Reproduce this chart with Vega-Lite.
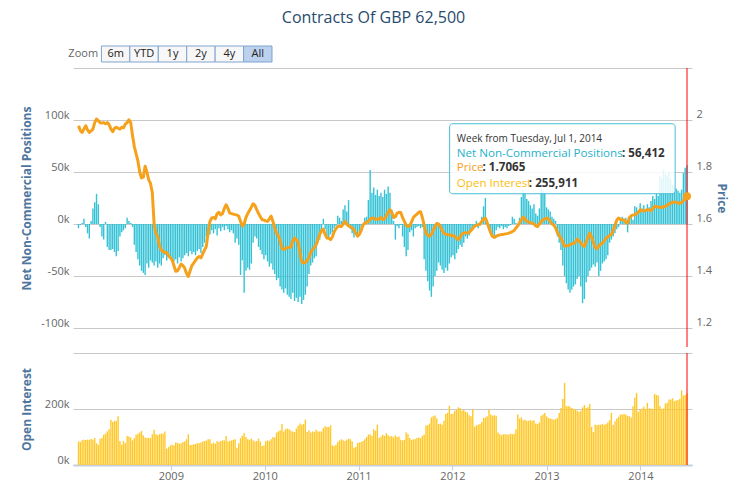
{
"$schema":"https://vega.github.io/schema/vega-lite/v6.json",
"padding":{"left":19,"top":9,"right":2,"bottom":0},
"title":{"text":"Contracts Of GBP 62,500","fontSize":16,"font":"Open Sans","fontWeight":"normal","color":"#274b6d","anchor":"middle","offset":20},
"config":{"view":{"stroke":null},"font":"Open Sans","axis":{"labelFont":"Open Sans","labelFontSize":11,"labelColor":"#666666","titleFont":"Open Sans","titleFontSize":12,"titleColor":"#4d759e","titleFontWeight":"bold","gridColor":"#c8c8c8","gridWidth":1}},
"spacing":4,
"resolve":{"scale":{"x":"independent","y":"independent"}},
"datasets":{"cot":[
{"date":"2008-01-08","net":-4000,"price":1.978,"oi":84000},
{"date":"2008-01-15","net":-1000,"price":1.96,"oi":82000},
{"date":"2008-01-22","net":1000,"price":1.952,"oi":88000},
{"date":"2008-01-29","net":5000,"price":1.965,"oi":90000},
{"date":"2008-02-05","net":-3000,"price":1.978,"oi":89000},
{"date":"2008-02-12","net":-9000,"price":1.962,"oi":91000},
{"date":"2008-02-19","net":-14000,"price":1.952,"oi":90000},
{"date":"2008-02-26","net":3000,"price":1.958,"oi":93000},
{"date":"2008-03-04","net":15000,"price":1.965,"oi":90000},
{"date":"2008-03-11","net":21000,"price":1.99,"oi":96000},
{"date":"2008-03-18","net":29000,"price":2.004,"oi":78000},
{"date":"2008-03-25","net":19000,"price":1.997,"oi":72000},
{"date":"2008-04-01","net":-3000,"price":1.99,"oi":94000},
{"date":"2008-04-08","net":-12000,"price":1.988,"oi":96000},
{"date":"2008-04-15","net":-15000,"price":1.99,"oi":108000},
{"date":"2008-04-22","net":2000,"price":1.985,"oi":112000},
{"date":"2008-04-29","net":-22000,"price":1.99,"oi":120000},
{"date":"2008-05-06","net":-25000,"price":1.982,"oi":128000},
{"date":"2008-05-13","net":-25000,"price":1.965,"oi":162000},
{"date":"2008-05-20","net":-24000,"price":1.955,"oi":154000},
{"date":"2008-05-27","net":-27000,"price":1.968,"oi":158000},
{"date":"2008-06-03","net":-31000,"price":1.972,"oi":158000},
{"date":"2008-06-10","net":-26000,"price":1.968,"oi":174000},
{"date":"2008-06-17","net":-12000,"price":1.965,"oi":86000},
{"date":"2008-06-24","net":-8000,"price":1.972,"oi":72000},
{"date":"2008-07-01","net":-6000,"price":1.97,"oi":86000},
{"date":"2008-07-08","net":-4000,"price":1.984,"oi":78000},
{"date":"2008-07-15","net":6000,"price":1.99,"oi":104000},
{"date":"2008-07-22","net":3000,"price":2.001,"oi":102000},
{"date":"2008-07-29","net":1000,"price":1.99,"oi":98000},
{"date":"2008-08-05","net":-3000,"price":1.94,"oi":88000},
{"date":"2008-08-12","net":-20000,"price":1.898,"oi":96000},
{"date":"2008-08-19","net":-27000,"price":1.87,"oi":108000},
{"date":"2008-08-26","net":-34000,"price":1.842,"oi":112000},
{"date":"2008-09-02","net":-40000,"price":1.80,"oi":116000},
{"date":"2008-09-09","net":-45000,"price":1.777,"oi":122000},
{"date":"2008-09-16","net":-47000,"price":1.78,"oi":106000},
{"date":"2008-09-23","net":-49000,"price":1.822,"oi":98000},
{"date":"2008-09-30","net":-38000,"price":1.80,"oi":96000},
{"date":"2008-10-07","net":-42000,"price":1.77,"oi":97000},
{"date":"2008-10-14","net":-35000,"price":1.756,"oi":96000},
{"date":"2008-10-21","net":-37000,"price":1.72,"oi":110000},
{"date":"2008-10-28","net":-40000,"price":1.60,"oi":126000},
{"date":"2008-11-04","net":-36000,"price":1.565,"oi":110000},
{"date":"2008-11-11","net":-42000,"price":1.552,"oi":106000},
{"date":"2008-11-18","net":-38000,"price":1.514,"oi":110000},
{"date":"2008-11-25","net":-40000,"price":1.50,"oi":112000},
{"date":"2008-12-02","net":-33000,"price":1.494,"oi":112000},
{"date":"2008-12-09","net":-30000,"price":1.49,"oi":120000},
{"date":"2008-12-16","net":-35000,"price":1.49,"oi":58000},
{"date":"2008-12-23","net":-31000,"price":1.478,"oi":64000},
{"date":"2008-12-30","net":-33000,"price":1.47,"oi":70000},
{"date":"2009-01-06","net":-35000,"price":1.462,"oi":72000},
{"date":"2009-01-13","net":-36000,"price":1.44,"oi":70000},
{"date":"2009-01-20","net":-34000,"price":1.418,"oi":80000},
{"date":"2009-01-27","net":-38000,"price":1.42,"oi":79000},
{"date":"2009-02-03","net":-32000,"price":1.432,"oi":76000},
{"date":"2009-02-10","net":-36000,"price":1.446,"oi":78000},
{"date":"2009-02-17","net":-33000,"price":1.44,"oi":82000},
{"date":"2009-02-24","net":-30000,"price":1.43,"oi":84000},
{"date":"2009-03-03","net":-28000,"price":1.41,"oi":92000},
{"date":"2009-03-10","net":-31000,"price":1.398,"oi":110000},
{"date":"2009-03-17","net":-26000,"price":1.42,"oi":71000},
{"date":"2009-03-24","net":-29000,"price":1.44,"oi":71000},
{"date":"2009-03-31","net":-27000,"price":1.45,"oi":74000},
{"date":"2009-04-07","net":-30000,"price":1.46,"oi":75000},
{"date":"2009-04-14","net":-26000,"price":1.47,"oi":78000},
{"date":"2009-04-21","net":-24000,"price":1.475,"oi":78000},
{"date":"2009-04-28","net":-28000,"price":1.47,"oi":80000},
{"date":"2009-05-05","net":-22000,"price":1.485,"oi":84000},
{"date":"2009-05-12","net":-18000,"price":1.50,"oi":86000},
{"date":"2009-05-19","net":-12000,"price":1.514,"oi":87000},
{"date":"2009-05-26","net":-8000,"price":1.57,"oi":92000},
{"date":"2009-06-02","net":-10000,"price":1.61,"oi":92000},
{"date":"2009-06-09","net":-6000,"price":1.623,"oi":76000},
{"date":"2009-06-16","net":-9000,"price":1.625,"oi":80000},
{"date":"2009-06-23","net":-5000,"price":1.62,"oi":76000},
{"date":"2009-06-30","net":-11000,"price":1.64,"oi":86000},
{"date":"2009-07-07","net":-4000,"price":1.645,"oi":82000},
{"date":"2009-07-14","net":-7000,"price":1.635,"oi":86000},
{"date":"2009-07-21","net":-3000,"price":1.64,"oi":88000},
{"date":"2009-07-28","net":-6000,"price":1.66,"oi":88000},
{"date":"2009-08-04","net":-2000,"price":1.674,"oi":104000},
{"date":"2009-08-11","net":-5000,"price":1.66,"oi":84000},
{"date":"2009-08-18","net":-8000,"price":1.642,"oi":86000},
{"date":"2009-08-25","net":-6000,"price":1.64,"oi":88000},
{"date":"2009-09-01","net":-9000,"price":1.638,"oi":90000},
{"date":"2009-09-08","net":-18000,"price":1.636,"oi":92000},
{"date":"2009-09-15","net":-14000,"price":1.635,"oi":62000},
{"date":"2009-09-22","net":-20000,"price":1.63,"oi":78000},
{"date":"2009-09-29","net":-49000,"price":1.61,"oi":96000},
{"date":"2009-10-06","net":-35000,"price":1.592,"oi":104000},
{"date":"2009-10-13","net":-66000,"price":1.60,"oi":114000},
{"date":"2009-10-20","net":-45000,"price":1.625,"oi":100000},
{"date":"2009-10-27","net":-42000,"price":1.64,"oi":92000},
{"date":"2009-11-03","net":-44000,"price":1.652,"oi":90000},
{"date":"2009-11-10","net":-38000,"price":1.665,"oi":94000},
{"date":"2009-11-17","net":-18000,"price":1.678,"oi":88000},
{"date":"2009-11-24","net":-12000,"price":1.672,"oi":84000},
{"date":"2009-12-01","net":-14000,"price":1.655,"oi":86000},
{"date":"2009-12-08","net":-22000,"price":1.64,"oi":94000},
{"date":"2009-12-15","net":-25000,"price":1.628,"oi":84000},
{"date":"2009-12-22","net":-29000,"price":1.617,"oi":68000},
{"date":"2009-12-29","net":-34000,"price":1.615,"oi":70000},
{"date":"2010-01-05","net":-30000,"price":1.612,"oi":85000},
{"date":"2010-01-12","net":-36000,"price":1.61,"oi":88000},
{"date":"2010-01-19","net":-41000,"price":1.62,"oi":86000},
{"date":"2010-01-26","net":-38000,"price":1.63,"oi":92000},
{"date":"2010-02-02","net":-44000,"price":1.61,"oi":100000},
{"date":"2010-02-09","net":-48000,"price":1.585,"oi":98000},
{"date":"2010-02-16","net":-54000,"price":1.565,"oi":116000},
{"date":"2010-02-23","net":-52000,"price":1.555,"oi":120000},
{"date":"2010-03-02","net":-60000,"price":1.535,"oi":124000},
{"date":"2010-03-09","net":-63000,"price":1.505,"oi":146000},
{"date":"2010-03-16","net":-66000,"price":1.502,"oi":120000},
{"date":"2010-03-23","net":-62000,"price":1.505,"oi":128000},
{"date":"2010-03-30","net":-68000,"price":1.51,"oi":130000},
{"date":"2010-04-06","net":-70000,"price":1.51,"oi":128000},
{"date":"2010-04-13","net":-72000,"price":1.512,"oi":122000},
{"date":"2010-04-20","net":-66000,"price":1.535,"oi":120000},
{"date":"2010-04-27","net":-74000,"price":1.546,"oi":118000},
{"date":"2010-05-04","net":-71000,"price":1.54,"oi":130000},
{"date":"2010-05-11","net":-75000,"price":1.53,"oi":140000},
{"date":"2010-05-18","net":-70000,"price":1.49,"oi":148000},
{"date":"2010-05-25","net":-77000,"price":1.455,"oi":144000},
{"date":"2010-06-01","net":-73000,"price":1.45,"oi":146000},
{"date":"2010-06-08","net":-68000,"price":1.452,"oi":162000},
{"date":"2010-06-15","net":-60000,"price":1.46,"oi":118000},
{"date":"2010-06-22","net":-48000,"price":1.47,"oi":124000},
{"date":"2010-06-29","net":-40000,"price":1.49,"oi":116000},
{"date":"2010-07-06","net":-37000,"price":1.502,"oi":120000},
{"date":"2010-07-13","net":-33000,"price":1.51,"oi":118000},
{"date":"2010-07-20","net":-31000,"price":1.52,"oi":126000},
{"date":"2010-07-27","net":-18000,"price":1.54,"oi":120000},
{"date":"2010-08-03","net":-15000,"price":1.56,"oi":120000},
{"date":"2010-08-10","net":-9000,"price":1.575,"oi":120000},
{"date":"2010-08-17","net":5000,"price":1.58,"oi":132000},
{"date":"2010-08-24","net":-5000,"price":1.56,"oi":138000},
{"date":"2010-08-31","net":-12000,"price":1.546,"oi":136000},
{"date":"2010-09-07","net":-14000,"price":1.545,"oi":136000},
{"date":"2010-09-14","net":-10000,"price":1.54,"oi":142000},
{"date":"2010-09-21","net":-8000,"price":1.55,"oi":70000},
{"date":"2010-09-28","net":-4000,"price":1.57,"oi":68000},
{"date":"2010-10-05","net":-2000,"price":1.582,"oi":72000},
{"date":"2010-10-12","net":8000,"price":1.59,"oi":82000},
{"date":"2010-10-19","net":6000,"price":1.592,"oi":88000},
{"date":"2010-10-26","net":3000,"price":1.59,"oi":92000},
{"date":"2010-11-02","net":14000,"price":1.60,"oi":88000},
{"date":"2010-11-09","net":18000,"price":1.61,"oi":86000},
{"date":"2010-11-16","net":12000,"price":1.60,"oi":90000},
{"date":"2010-11-23","net":23000,"price":1.592,"oi":94000},
{"date":"2010-11-30","net":-5000,"price":1.59,"oi":92000},
{"date":"2010-12-07","net":-9000,"price":1.585,"oi":84000},
{"date":"2010-12-14","net":-13000,"price":1.578,"oi":62000},
{"date":"2010-12-21","net":-7000,"price":1.565,"oi":64000},
{"date":"2010-12-28","net":-11000,"price":1.553,"oi":78000},
{"date":"2011-01-04","net":-8000,"price":1.56,"oi":80000},
{"date":"2011-01-11","net":-6000,"price":1.575,"oi":82000},
{"date":"2011-01-18","net":-3000,"price":1.595,"oi":86000},
{"date":"2011-01-25","net":6000,"price":1.604,"oi":92000},
{"date":"2011-02-01","net":7000,"price":1.606,"oi":100000},
{"date":"2011-02-08","net":23000,"price":1.61,"oi":108000},
{"date":"2011-02-15","net":52000,"price":1.618,"oi":110000},
{"date":"2011-02-22","net":30000,"price":1.623,"oi":104000},
{"date":"2011-03-01","net":35000,"price":1.622,"oi":128000},
{"date":"2011-03-08","net":28000,"price":1.618,"oi":122000},
{"date":"2011-03-15","net":33000,"price":1.618,"oi":144000},
{"date":"2011-03-22","net":27000,"price":1.62,"oi":96000},
{"date":"2011-03-29","net":30000,"price":1.625,"oi":102000},
{"date":"2011-04-05","net":26000,"price":1.617,"oi":108000},
{"date":"2011-04-12","net":33000,"price":1.62,"oi":104000},
{"date":"2011-04-19","net":29000,"price":1.632,"oi":114000},
{"date":"2011-04-26","net":36000,"price":1.645,"oi":106000},
{"date":"2011-05-03","net":30000,"price":1.655,"oi":102000},
{"date":"2011-05-10","net":14000,"price":1.645,"oi":104000},
{"date":"2011-05-17","net":3000,"price":1.625,"oi":98000},
{"date":"2011-05-24","net":-15000,"price":1.628,"oi":106000},
{"date":"2011-05-31","net":-2000,"price":1.642,"oi":100000},
{"date":"2011-06-07","net":-4000,"price":1.645,"oi":102000},
{"date":"2011-06-14","net":-1000,"price":1.644,"oi":90000},
{"date":"2011-06-21","net":-12000,"price":1.625,"oi":88000},
{"date":"2011-06-28","net":-22000,"price":1.61,"oi":90000},
{"date":"2011-07-05","net":-31000,"price":1.595,"oi":117000},
{"date":"2011-07-12","net":-25000,"price":1.59,"oi":110000},
{"date":"2011-07-19","net":-8000,"price":1.593,"oi":96000},
{"date":"2011-07-26","net":-6000,"price":1.608,"oi":90000},
{"date":"2011-08-02","net":-12000,"price":1.625,"oi":92000},
{"date":"2011-08-09","net":-4000,"price":1.632,"oi":92000},
{"date":"2011-08-16","net":-3000,"price":1.638,"oi":96000},
{"date":"2011-08-23","net":-2000,"price":1.645,"oi":98000},
{"date":"2011-08-30","net":-4000,"price":1.647,"oi":96000},
{"date":"2011-09-06","net":-3000,"price":1.625,"oi":104000},
{"date":"2011-09-13","net":-34000,"price":1.595,"oi":108000},
{"date":"2011-09-20","net":-45000,"price":1.565,"oi":141000},
{"date":"2011-09-27","net":-55000,"price":1.557,"oi":142000},
{"date":"2011-10-04","net":-64000,"price":1.553,"oi":148000},
{"date":"2011-10-11","net":-70000,"price":1.56,"oi":170000},
{"date":"2011-10-18","net":-60000,"price":1.575,"oi":174000},
{"date":"2011-10-25","net":-50000,"price":1.59,"oi":177000},
{"date":"2011-11-01","net":-45000,"price":1.602,"oi":166000},
{"date":"2011-11-08","net":-37000,"price":1.60,"oi":146000},
{"date":"2011-11-15","net":-40000,"price":1.59,"oi":148000},
{"date":"2011-11-22","net":-44000,"price":1.575,"oi":144000},
{"date":"2011-11-29","net":-47000,"price":1.565,"oi":158000},
{"date":"2011-12-06","net":-42000,"price":1.56,"oi":182000},
{"date":"2011-12-13","net":-45000,"price":1.56,"oi":186000},
{"date":"2011-12-20","net":-38000,"price":1.558,"oi":212000},
{"date":"2011-12-27","net":-32000,"price":1.557,"oi":182000},
{"date":"2012-01-03","net":-30000,"price":1.555,"oi":184000},
{"date":"2012-01-10","net":-34000,"price":1.553,"oi":194000},
{"date":"2012-01-17","net":-28000,"price":1.545,"oi":198000},
{"date":"2012-01-24","net":-24000,"price":1.54,"oi":206000},
{"date":"2012-01-31","net":-20000,"price":1.55,"oi":204000},
{"date":"2012-02-07","net":-22000,"price":1.562,"oi":194000},
{"date":"2012-02-14","net":-18000,"price":1.565,"oi":196000},
{"date":"2012-02-21","net":-12000,"price":1.567,"oi":190000},
{"date":"2012-02-28","net":-14000,"price":1.565,"oi":188000},
{"date":"2012-03-06","net":-11000,"price":1.567,"oi":178000},
{"date":"2012-03-13","net":-5000,"price":1.575,"oi":174000},
{"date":"2012-03-20","net":-3000,"price":1.583,"oi":200000},
{"date":"2012-03-27","net":-2000,"price":1.592,"oi":137000},
{"date":"2012-04-03","net":3000,"price":1.595,"oi":142000},
{"date":"2012-04-10","net":-4000,"price":1.598,"oi":144000},
{"date":"2012-04-17","net":-2000,"price":1.60,"oi":146000},
{"date":"2012-04-24","net":7000,"price":1.61,"oi":154000},
{"date":"2012-05-01","net":17000,"price":1.62,"oi":168000},
{"date":"2012-05-08","net":25000,"price":1.623,"oi":170000},
{"date":"2012-05-15","net":4000,"price":1.605,"oi":174000},
{"date":"2012-05-22","net":-4000,"price":1.585,"oi":198000},
{"date":"2012-05-29","net":-8000,"price":1.565,"oi":180000},
{"date":"2012-06-05","net":-13000,"price":1.552,"oi":176000},
{"date":"2012-06-12","net":-12000,"price":1.548,"oi":178000},
{"date":"2012-06-19","net":-6000,"price":1.553,"oi":176000},
{"date":"2012-06-26","net":-3000,"price":1.556,"oi":116000},
{"date":"2012-07-03","net":-4000,"price":1.558,"oi":110000},
{"date":"2012-07-10","net":-2000,"price":1.56,"oi":106000},
{"date":"2012-07-17","net":-5000,"price":1.56,"oi":110000},
{"date":"2012-07-24","net":-3000,"price":1.562,"oi":110000},
{"date":"2012-07-31","net":-4000,"price":1.563,"oi":110000},
{"date":"2012-08-07","net":-2000,"price":1.565,"oi":108000},
{"date":"2012-08-14","net":-1000,"price":1.568,"oi":112000},
{"date":"2012-08-21","net":7000,"price":1.571,"oi":110000},
{"date":"2012-08-28","net":5000,"price":1.575,"oi":112000},
{"date":"2012-09-04","net":1000,"price":1.585,"oi":128000},
{"date":"2012-09-11","net":-1000,"price":1.593,"oi":180000},
{"date":"2012-09-18","net":6000,"price":1.605,"oi":166000},
{"date":"2012-09-25","net":26000,"price":1.615,"oi":170000},
{"date":"2012-10-02","net":33000,"price":1.627,"oi":160000},
{"date":"2012-10-09","net":30000,"price":1.62,"oi":162000},
{"date":"2012-10-16","net":24000,"price":1.61,"oi":158000},
{"date":"2012-10-23","net":22000,"price":1.608,"oi":158000},
{"date":"2012-10-30","net":18000,"price":1.605,"oi":160000},
{"date":"2012-11-06","net":15000,"price":1.604,"oi":158000},
{"date":"2012-11-13","net":19000,"price":1.60,"oi":160000},
{"date":"2012-11-20","net":10000,"price":1.593,"oi":148000},
{"date":"2012-11-27","net":8000,"price":1.59,"oi":146000},
{"date":"2012-12-04","net":15000,"price":1.60,"oi":152000},
{"date":"2012-12-11","net":34000,"price":1.608,"oi":176000},
{"date":"2012-12-18","net":32000,"price":1.616,"oi":180000},
{"date":"2012-12-25","net":30000,"price":1.62,"oi":186000},
{"date":"2013-01-01","net":16000,"price":1.623,"oi":174000},
{"date":"2013-01-08","net":14000,"price":1.62,"oi":168000},
{"date":"2013-01-15","net":12000,"price":1.61,"oi":166000},
{"date":"2013-01-22","net":7000,"price":1.60,"oi":164000},
{"date":"2013-01-29","net":5000,"price":1.596,"oi":162000},
{"date":"2013-02-05","net":3000,"price":1.585,"oi":164000},
{"date":"2013-02-12","net":-12000,"price":1.567,"oi":168000},
{"date":"2013-02-19","net":-18000,"price":1.555,"oi":186000},
{"date":"2013-02-26","net":-25000,"price":1.545,"oi":204000},
{"date":"2013-03-05","net":-40000,"price":1.53,"oi":236000},
{"date":"2013-03-12","net":-50000,"price":1.515,"oi":293000},
{"date":"2013-03-19","net":-57000,"price":1.515,"oi":210000},
{"date":"2013-03-26","net":-63000,"price":1.517,"oi":212000},
{"date":"2013-04-02","net":-66000,"price":1.52,"oi":208000},
{"date":"2013-04-09","net":-63000,"price":1.524,"oi":204000},
{"date":"2013-04-16","net":-60000,"price":1.525,"oi":200000},
{"date":"2013-04-23","net":-58000,"price":1.53,"oi":200000},
{"date":"2013-04-30","net":-53000,"price":1.542,"oi":194000},
{"date":"2013-05-07","net":-50000,"price":1.535,"oi":190000},
{"date":"2013-05-14","net":-60000,"price":1.528,"oi":194000},
{"date":"2013-05-21","net":-76000,"price":1.518,"oi":206000},
{"date":"2013-05-28","net":-72000,"price":1.514,"oi":214000},
{"date":"2013-06-04","net":-56000,"price":1.53,"oi":204000},
{"date":"2013-06-11","net":-50000,"price":1.55,"oi":206000},
{"date":"2013-06-18","net":-45000,"price":1.565,"oi":218000},
{"date":"2013-06-25","net":-42000,"price":1.55,"oi":136000},
{"date":"2013-07-02","net":-39000,"price":1.53,"oi":118000},
{"date":"2013-07-09","net":-41000,"price":1.51,"oi":144000},
{"date":"2013-07-16","net":-37000,"price":1.505,"oi":142000},
{"date":"2013-07-23","net":-50000,"price":1.515,"oi":144000},
{"date":"2013-07-30","net":-45000,"price":1.522,"oi":144000},
{"date":"2013-08-06","net":-38000,"price":1.526,"oi":146000},
{"date":"2013-08-13","net":-36000,"price":1.535,"oi":144000},
{"date":"2013-08-20","net":-34000,"price":1.545,"oi":146000},
{"date":"2013-08-27","net":-30000,"price":1.55,"oi":152000},
{"date":"2013-09-03","net":-18000,"price":1.556,"oi":160000},
{"date":"2013-09-10","net":-15000,"price":1.56,"oi":186000},
{"date":"2013-09-17","net":-12000,"price":1.575,"oi":143000},
{"date":"2013-09-24","net":-9000,"price":1.595,"oi":156000},
{"date":"2013-10-01","net":-5000,"price":1.615,"oi":166000},
{"date":"2013-10-08","net":-3000,"price":1.623,"oi":172000},
{"date":"2013-10-15","net":4000,"price":1.618,"oi":180000},
{"date":"2013-10-22","net":7000,"price":1.616,"oi":180000},
{"date":"2013-10-29","net":5000,"price":1.615,"oi":182000},
{"date":"2013-11-05","net":6000,"price":1.607,"oi":180000},
{"date":"2013-11-12","net":-8000,"price":1.603,"oi":176000},
{"date":"2013-11-19","net":6000,"price":1.625,"oi":174000},
{"date":"2013-11-26","net":7000,"price":1.632,"oi":170000},
{"date":"2013-12-03","net":4000,"price":1.634,"oi":210000},
{"date":"2013-12-10","net":17000,"price":1.636,"oi":240000},
{"date":"2013-12-17","net":16000,"price":1.64,"oi":258000},
{"date":"2013-12-24","net":12000,"price":1.645,"oi":190000},
{"date":"2013-12-31","net":20000,"price":1.655,"oi":196000},
{"date":"2014-01-07","net":15000,"price":1.652,"oi":202000},
{"date":"2014-01-14","net":18000,"price":1.65,"oi":208000},
{"date":"2014-01-21","net":14000,"price":1.652,"oi":200000},
{"date":"2014-01-28","net":19000,"price":1.655,"oi":222000},
{"date":"2014-02-04","net":16000,"price":1.654,"oi":202000},
{"date":"2014-02-11","net":22000,"price":1.652,"oi":202000},
{"date":"2014-02-18","net":27000,"price":1.66,"oi":200000},
{"date":"2014-02-25","net":24000,"price":1.668,"oi":254000},
{"date":"2014-03-04","net":30000,"price":1.667,"oi":250000},
{"date":"2014-03-11","net":27000,"price":1.665,"oi":248000},
{"date":"2014-03-18","net":46000,"price":1.664,"oi":210000},
{"date":"2014-03-25","net":44000,"price":1.663,"oi":200000},
{"date":"2014-04-01","net":52000,"price":1.667,"oi":202000},
{"date":"2014-04-08","net":48000,"price":1.668,"oi":220000},
{"date":"2014-04-15","net":46000,"price":1.672,"oi":222000},
{"date":"2014-04-22","net":50000,"price":1.676,"oi":234000},
{"date":"2014-04-29","net":43000,"price":1.681,"oi":234000},
{"date":"2014-05-06","net":38000,"price":1.683,"oi":238000},
{"date":"2014-05-13","net":35000,"price":1.685,"oi":228000},
{"date":"2014-05-20","net":34000,"price":1.683,"oi":230000},
{"date":"2014-05-27","net":32000,"price":1.68,"oi":232000},
{"date":"2014-06-03","net":30000,"price":1.68,"oi":236000},
{"date":"2014-06-10","net":33000,"price":1.682,"oi":266000},
{"date":"2014-06-17","net":49000,"price":1.69,"oi":248000},
{"date":"2014-06-24","net":54000,"price":1.695,"oi":250000},
{"date":"2014-07-01","net":56412,"price":1.7065,"oi":255911}
]},
"vconcat":[
{
"width":199,"height":16,
"data":{"values":[{"b":"Zoom"},{"b":"6m"},{"b":"YTD"},{"b":"1y"},{"b":"2y"},{"b":"4y"},{"b":"All"}]},
"encoding":{"x":{"field":"b","type":"nominal","sort":null,"scale":{"domain":["Zoom","6m","YTD","1y","2y","4y","All"],"paddingInner":0,"paddingOuter":0},"axis":null}},
"layer":[
{"transform":[{"filter":"datum.b !== 'Zoom'"}],
"mark":{"type":"rect","stroke":"#7fa3cf","strokeWidth":1},
"encoding":{"fill":{"condition":{"test":"datum.b === 'All'","value":"#bcd1ee"},"value":"#f7f7f7"}}},
{"transform":[{"filter":"datum.b !== 'Zoom'"}],
"mark":{"type":"text","fontSize":11,"font":"Open Sans","color":"#222222"},
"encoding":{"text":{"field":"b"}}},
{"transform":[{"filter":"datum.b === 'Zoom'"}],
"mark":{"type":"text","fontSize":11,"font":"Open Sans","color":"#666666","dx":-4},
"encoding":{"text":{"field":"b"}}}
]
},
{
"width":619,"height":279,
"data":{"name":"cot"},
"resolve":{"scale":{"y":"independent"}},
"layer":[
{"layer":[
{"mark":{"type":"bar","size":1.4,"color":"#33c2d6"},
"encoding":{
"x":{"field":"date","type":"temporal","scale":{"type":"utc","domain":[{"year":2008,"month":1,"date":6,"utc":true},{"year":2014,"month":7,"date":1,"utc":true}]},"axis":null},
"y":{"field":"net","type":"quantitative","scale":{"domain":[-118269,150000],"nice":false,"zero":false},
"axis":{"values":[-100000,-50000,0,50000,100000,150000],"labelExpr":"datum.value >= 150000 ? '' : (datum.value/1000) + 'k'","title":"Net Non-Commercial Positions","titleX":-40,"titleY":130,"domain":false,"ticks":false,"labelPadding":4,"labelBaseline":"bottom"}}}},
{"data":{"values":[{}]},"mark":{"type":"rule","color":"#ff0000","strokeWidth":1},
"encoding":{"x":{"datum":{"year":2014,"month":7,"date":1,"utc":true},"type":"temporal"},"y":{"datum":150000,"type":"quantitative"},"y2":{"datum":-118269},"y2Offset":{"value":4}}},
{"data":{"values":[{}]},"mark":{"type":"rect","fill":"#ffffff","fillOpacity":0.85,"stroke":"#45bfd5","strokeWidth":1,"cornerRadius":3},
"encoding":{"x":{"datum":{"year":2011,"month":12,"date":21,"utc":true},"type":"temporal"},"x2":{"datum":{"year":2014,"month":5,"date":16,"utc":true}},"y":{"datum":96400,"type":"quantitative"},"y2":{"datum":29100}}},
{"data":{"values":[{}]},"mark":{"type":"text","align":"left","baseline":"middle","fontSize":10,"color":"#333333"},
"encoding":{"x":{"datum":{"year":2012,"month":1,"date":18,"utc":true},"type":"temporal"},"y":{"datum":81700,"type":"quantitative"},"text":{"value":"Week from Tuesday, Jul 1, 2014"}}},
{"data":{"values":[{}]},"mark":{"type":"text","align":"left","baseline":"middle","fontSize":11.6,"color":"#1fb2ca"},
"encoding":{"x":{"datum":{"year":2012,"month":1,"date":18,"utc":true},"type":"temporal"},"y":{"datum":67300,"type":"quantitative"},"text":{"value":"Net Non-Commercial Positions"}}},
{"data":{"values":[{}]},"mark":{"type":"text","align":"left","baseline":"middle","fontSize":11.6,"fontWeight":"bold","color":"#333333"},
"encoding":{"x":{"datum":{"year":2013,"month":10,"date":21,"utc":true},"type":"temporal"},"y":{"datum":67300,"type":"quantitative"},"text":{"value":": 56,412"}}},
{"data":{"values":[{}]},"mark":{"type":"text","align":"left","baseline":"middle","fontSize":11.6,"color":"#f6a11c"},
"encoding":{"x":{"datum":{"year":2012,"month":1,"date":18,"utc":true},"type":"temporal"},"y":{"datum":53800,"type":"quantitative"},"text":{"value":"Price"}}},
{"data":{"values":[{}]},"mark":{"type":"text","align":"left","baseline":"middle","fontSize":11.6,"fontWeight":"bold","color":"#333333"},
"encoding":{"x":{"datum":{"year":2012,"month":4,"date":27,"utc":true},"type":"temporal"},"y":{"datum":53800,"type":"quantitative"},"text":{"value":": 1.7065"}}},
{"data":{"values":[{}]},"mark":{"type":"text","align":"left","baseline":"middle","fontSize":11.6,"color":"#fbbd0e"},
"encoding":{"x":{"datum":{"year":2012,"month":1,"date":18,"utc":true},"type":"temporal"},"y":{"datum":38750,"type":"quantitative"},"text":{"value":"Open Interest"}}},
{"data":{"values":[{}]},"mark":{"type":"text","align":"left","baseline":"middle","fontSize":11.6,"fontWeight":"bold","color":"#333333"},
"encoding":{"x":{"datum":{"year":2012,"month":10,"date":24,"utc":true},"type":"temporal"},"y":{"datum":38750,"type":"quantitative"},"text":{"value":": 255,911"}}}
]},
{"layer":[
{"mark":{"type":"line","color":"#f6a11c","strokeWidth":3,"strokeJoin":"round"},
"encoding":{
"x":{"field":"date","type":"temporal"},
"y":{"field":"price","type":"quantitative","scale":{"domain":[1.12692,2.2],"nice":false,"zero":false},
"axis":{"orient":"right","values":[1.2,1.4,1.6,1.8,2.0],"format":"~g","grid":false,"domain":false,"ticks":false,"labelPadding":4,"labelBaseline":"bottom","title":"Price","titleX":22,"titleY":130}}}},
{"data":{"values":[{}]},"mark":{"type":"point","filled":true,"size":64,"color":"#f6a11c","opacity":1},
"encoding":{"x":{"datum":{"year":2014,"month":7,"date":1,"utc":true},"type":"temporal"},"y":{"datum":1.7065,"type":"quantitative"}}}
]}
]
},
{
"width":619,"height":112,
"data":{"name":"cot"},
"layer":[
{"mark":{"type":"bar","size":1.4,"color":"#ffc829"},
"encoding":{
"x":{"field":"date","type":"temporal","scale":{"type":"utc","domain":[{"year":2008,"month":1,"date":6,"utc":true},{"year":2014,"month":7,"date":1,"utc":true}]},
"axis":{"values":[{"year":2009,"month":1,"date":1,"utc":true},{"year":2010,"month":1,"date":1,"utc":true},{"year":2011,"month":1,"date":1,"utc":true},{"year":2012,"month":1,"date":1,"utc":true},{"year":2013,"month":1,"date":1,"utc":true},{"year":2014,"month":1,"date":1,"utc":true}],"format":"%Y","title":null,"grid":false,"domainColor":"#c4cfdb","domainWidth":2,"tickColor":"#c0d0e0","tickSize":5,"labelPadding":0}},
"y":{"field":"oi","type":"quantitative","scale":{"domain":[0,400000],"nice":false},
"axis":{"values":[0,200000,400000],"labelExpr":"datum.value >= 400000 ? '' : (datum.value/1000) + 'k'","title":"Open Interest","titleX":-40,"domain":false,"ticks":false,"labelPadding":4,"labelBaseline":"bottom"}}}},
{"data":{"values":[{}]},"mark":{"type":"rule","color":"#ff0000","strokeWidth":1},
"encoding":{"x":{"datum":{"year":2014,"month":7,"date":1,"utc":true},"type":"temporal"}}}
]
}
]
}
